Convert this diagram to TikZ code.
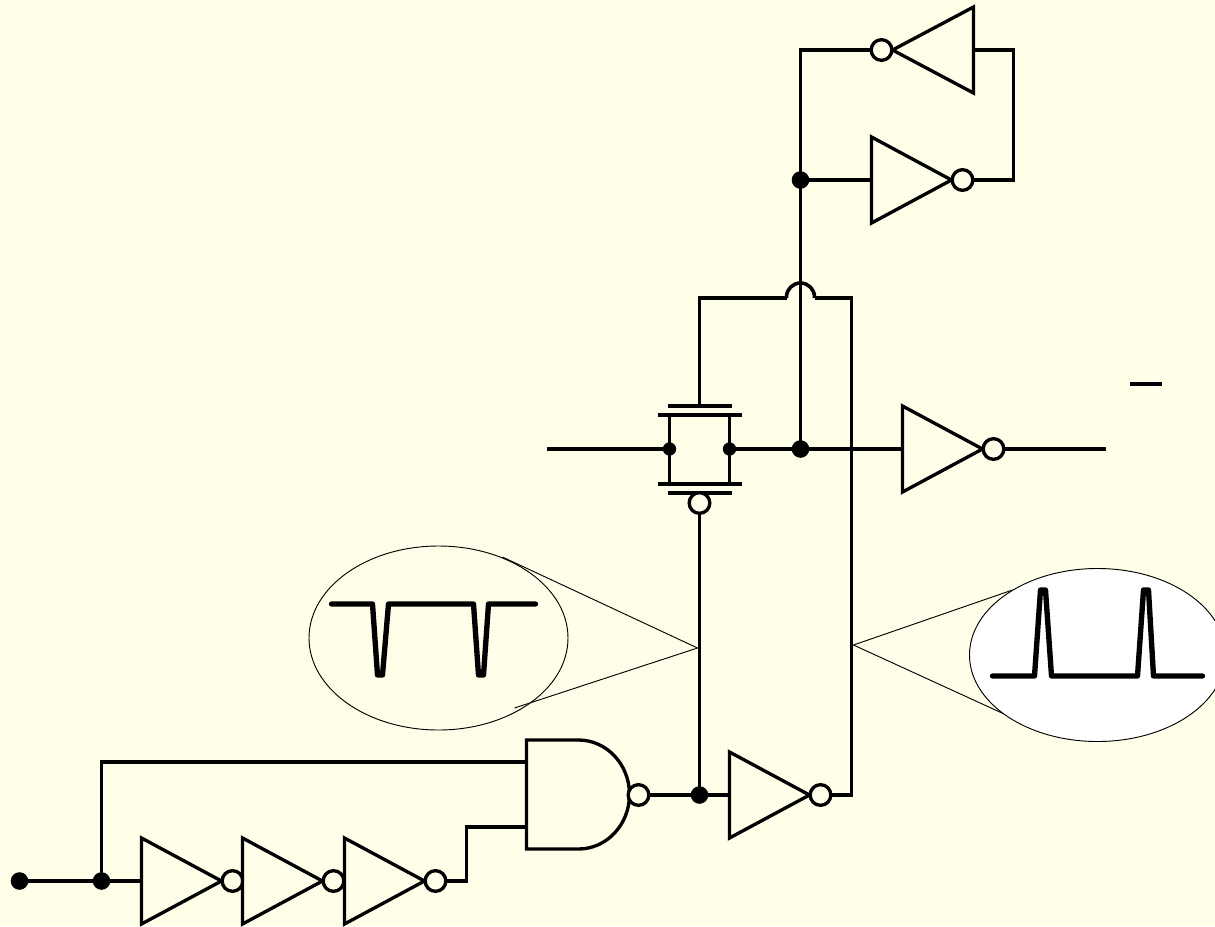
\documentclass[tikz,border=0pt]{standalone}
\definecolor{paper}{HTML}{FFFFE9}
\tikzset{
  wire/.style={line width=2.7pt,line join=miter},
  thin wire/.style={line width=0.7pt},
  pulse/.style={line width=4pt,line join=round,line cap=round},
  bub/.style={circle,draw,fill=paper,line width=2.5pt,inner sep=0pt,minimum size=15.5pt},
  dotl/.style={circle,fill=black,inner sep=0pt,minimum size=13.2pt},
  dots/.style={circle,fill=black,inner sep=0pt,minimum size=10pt},
  gate/.style={line width=2.5pt,line join=miter,fill=paper},
}
% name, left x, centre y: inverter pointing right
\newcommand{\invright}[3]{%
  \coordinate (#1-in) at (#2,#3);
  \draw[gate] (#2,#3-43) -- (#2+80,#3) -- (#2,#3+43) -- cycle;
  \node[bub] (#1-b) at (#2+91,#3) {};
}
% name, right x, centre y: inverter pointing left
\newcommand{\invleft}[3]{%
  \coordinate (#1-in) at (#2,#3);
  \draw[gate] (#2,#3-43) -- (#2-81,#3) -- (#2,#3+43) -- cycle;
  \node[bub] (#1-b) at (#2-92,#3) {};
}
\begin{document}
\begin{tikzpicture}[x=0.75pt,y=-0.75pt]
\useasboundingbox (0,0) rectangle (1215,926);
\clip (0,0) rectangle (1215,926);
\fill[paper] (0,0) rectangle (1215,926);
\begin{scope}[shift={(0.5,0)}]

% ellipses and callout lines
\draw[thin wire] (438,638) ellipse [x radius=129.5,y radius=92];
\coordinate (ltip) at (697,648);
\coordinate (lup) at (502,557);
\coordinate (llo) at (514,708);
\draw[thin wire] (lup) -- (ltip) -- (llo);
\coordinate (rtip) at (853,645);
\coordinate (rup) at (1012,590);
\coordinate (rlo) at (1008,716);
\draw[thin wire] (rup) -- (rtip) -- (rlo);
\draw[thin wire,fill=white] (1097,655) ellipse [x radius=128,y radius=86.5];

% pulses
\draw[pulse] (331,604) -- (372,604) -- (377,675) -- (382,675) -- (388,604) -- (473,604) -- (478,675) -- (483,675) -- (488,604) -- (535,604);
\draw[pulse] (992,676) -- (1034,676) -- (1040,590) -- (1045,590) -- (1051,676) -- (1137,676) -- (1143,590) -- (1148,590) -- (1153,676) -- (1202,676);

% named points
\coordinate (in) at (19,881);
\coordinate (j1) at (101,881);
\coordinate (nandA) at (526,762);
\coordinate (nandB) at (526,827);
\coordinate (c1) at (466,881);
\coordinate (c2) at (466,827);
\coordinate (j2) at (699,795);
\coordinate (c3) at (851,795);
\coordinate (c4) at (851,298);
\coordinate (hopR) at (814,298);
\coordinate (hopL) at (786,298);
\coordinate (c5) at (699,298);
\coordinate (gt) at (699,406);
\coordinate (srcin) at (546,449);
\coordinate (j3) at (800,449);
\coordinate (j4) at (800,180);
\coordinate (c6) at (800,50);
\coordinate (c7) at (1013,180);
\coordinate (c8) at (1013,50);
\coordinate (out) at (1105,449);
\coordinate (sl) at (669,449);
\coordinate (sr) at (729,449);

% wires
\draw[wire] (in) -- (j1) -- (141,881);
\draw[wire] (j1) |- (nandA);
\draw[wire] (435,881) -- (c1) -- (c2) -- (nandB);
\draw[wire] (638,795) -- (j2) -- (729,795);
\draw[wire] (820,795) -- (c3) -- (c4) -- (hopR);
\draw[wire] (hopR) -- (814,297) arc[start angle=0,end angle=-180,radius=14] -- (hopL);
\draw[wire] (hopL) -- (c5) -- (gt);
\draw[wire] (j2) -- (699,503);
\draw[wire] (srcin) -- (sl);
\draw[wire] (sr) -- (j3) -- (902,449);
\draw[wire] (j3) -- (j4) -- (c6) -- (881,50);
\draw[wire] (j4) -- (871,180);
\draw[wire] (962,180) -- (c7) -- (c8) -- (973,50);
\draw[wire] (993,449) -- (out);

% transmission gate
\draw[wire] (667,406) -- (731,406);
\draw[wire] (657,415) -- (741,415);
\draw[wire] (657,484) -- (741,484);
\draw[wire] (667,493) -- (731,493);
\draw[wire] (669,415) -- (669,484);
\draw[wire] (729,415) -- (729,484);
\node[bub] (tgb) at (699,503) {};
\node[dots] (dsl) at (sl) {};
\node[dots] (dsr) at (sr) {};

% gates
\invright{a}{141}{881}
\invright{b}{242}{881}
\invright{c}{344}{881}
\invright{d}{729}{795}
\invright{e}{902}{449}
\invright{f}{871}{180}
\invleft{g}{973}{50}
\draw[gate] (526,740) -- (578,740) arc[start angle=-90,end angle=90,x radius=51,y radius=54.5] -- (526,849) -- cycle;
\node[bub] (nandb) at (638,795) {};

% junction dots
\node[dotl] (din) at (in) {};
\node[dotl] (dj1) at (j1) {};
\node[dotl] (dj2) at (j2) {};
\node[dotl] (dj3) at (j3) {};
\node[dotl] (dj4) at (j4) {};

% stray dash
\coordinate (dashA) at (1129,384);
\coordinate (dashB) at (1161,384);
\draw[wire] (dashA) -- (dashB);
\end{scope}
\end{tikzpicture}
\end{document}
